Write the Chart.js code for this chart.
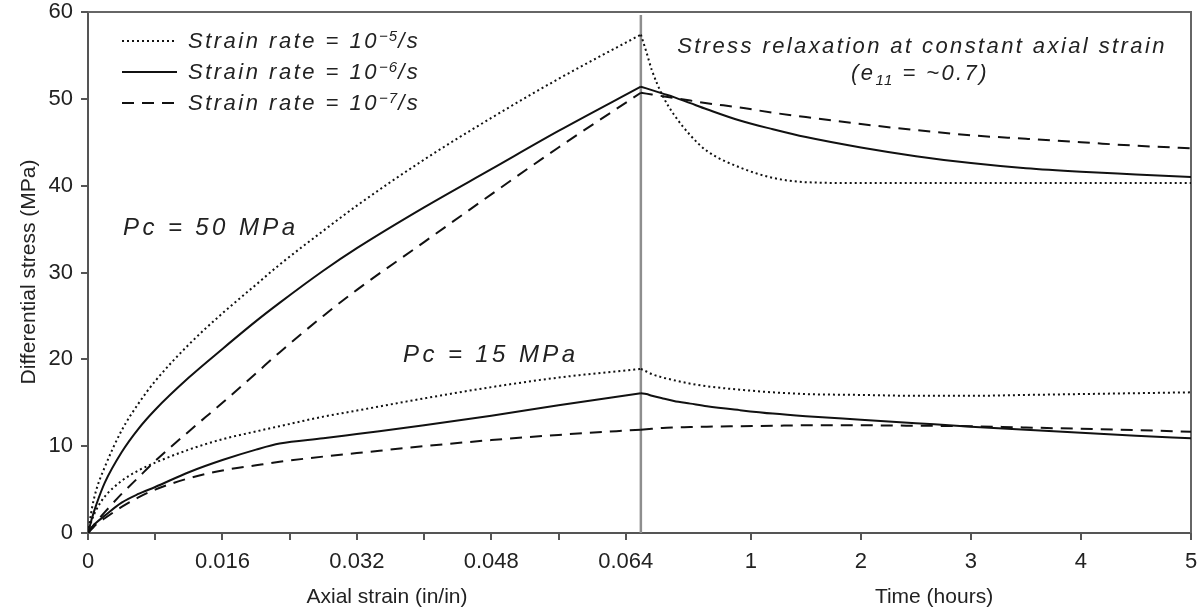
<!DOCTYPE html>
<html>
<head>
<meta charset="utf-8">
<script src="https://cdn.jsdelivr.net/npm/chart.js@4.4.1/dist/chart.umd.min.js"></script>
<style>
  html, body { margin: 0; padding: 0; background: #fff; }
  #wrap { width: 1197px; height: 611px; }
</style>
</head>
<body>
<div id="wrap"><canvas id="chart" width="1197" height="611"></canvas></div>
<script>
// loading part: axial strain (in/in)
const STRAIN = [0, 0.0005, 0.001, 0.002, 0.004, 0.006, 0.008, 0.012, 0.016, 0.020, 0.0228, 0.028, 0.032, 0.040, 0.048, 0.056, 0.0658];
const PC50_R5 = [0, 3.0, 5.0, 7.6, 11.8, 14.9, 17.5, 21.7, 25.3, 28.6, 30.9, 34.8, 37.7, 43.0, 47.8, 52.3, 57.4];
const PC50_R6 = [0, 1.8, 3.3, 5.8, 9.3, 12.0, 14.2, 17.9, 21.2, 24.4, 26.5, 30.2, 32.8, 37.5, 41.9, 46.3, 51.4];
const PC50_R7 = [0, 0.7, 1.3, 2.4, 4.5, 6.4, 8.3, 11.7, 15.0, 18.4, 20.8, 25.0, 28.0, 33.5, 39.0, 44.4, 50.7];
const PC15_R5 = [0, 1.6, 2.7, 4.2, 6.0, 7.2, 8.1, 9.6, 10.8, 11.7, 12.3, 13.4, 14.1, 15.5, 16.8, 17.9, 18.9];
const PC15_R6 = [0, 0.7, 1.2, 2.0, 3.5, 4.5, 5.3, 7.0, 8.4, 9.6, 10.3, 10.9, 11.4, 12.4, 13.5, 14.7, 16.1];
const PC15_R7 = [0, 0.5, 1.0, 1.7, 3.0, 4.1, 5.0, 6.3, 7.2, 7.8, 8.2, 8.8, 9.2, 10.0, 10.7, 11.3, 11.9];

// relaxation part: time (hours) at constant strain
const HOURS = [0, 0.05, 0.1, 0.2, 0.3, 0.45, 0.6, 0.9, 1.2, 1.5, 2, 2.5, 3, 3.5, 4, 4.5, 5];
const PC50_R5_RELAX = [57.4, 55.4, 53.3, 50.3, 48.2, 45.8, 44.0, 42.1, 40.9, 40.4, 40.3, 40.3, 40.3, 40.3, 40.3, 40.3, 40.3];
const PC50_R6_RELAX = [51.4, 51.2, 51.0, 50.6, 50.2, 49.5, 48.8, 47.5, 46.5, 45.6, 44.4, 43.4, 42.6, 42.0, 41.6, 41.3, 41.0];
const PC50_R7_RELAX = [50.7, 50.6, 50.5, 50.3, 50.1, 49.8, 49.5, 49.0, 48.4, 47.9, 47.1, 46.4, 45.8, 45.4, 45.0, 44.6, 44.3];
const PC15_R5_RELAX = [18.9, 18.6, 18.3, 17.9, 17.6, 17.2, 16.9, 16.5, 16.2, 16.0, 15.9, 15.8, 15.8, 15.9, 16.0, 16.1, 16.2];
const PC15_R6_RELAX = [16.1, 16.0, 15.8, 15.5, 15.2, 14.9, 14.6, 14.15, 13.75, 13.45, 13.05, 12.65, 12.25, 11.9, 11.55, 11.2, 10.9];
const PC15_R7_RELAX = [11.9, 11.95, 12.0, 12.1, 12.15, 12.2, 12.25, 12.3, 12.35, 12.4, 12.4, 12.35, 12.3, 12.15, 12.0, 11.85, 11.65];

const STRAIN_TICKS = [0, 0.008, 0.016, 0.024, 0.032, 0.040, 0.048, 0.056, 0.064];
const STRAIN_TICK_LABELS = ['0', '', '0.016', '', '0.032', '', '0.048', '', '0.064'];
const HOUR_TICKS = [1, 2, 3, 4, 5];
const RATE_EXPONENTS = ['\u22125', '\u22126', '\u22127'];

// the time axis continues right of the strain axis
const LINE_STRAIN = 0.0658;
const HOUR_SPAN = 110 / 8400;
const hourToX = h => LINE_STRAIN + h * HOUR_SPAN;

const X_TICKS = STRAIN_TICKS.concat(HOUR_TICKS.map(hourToX));
const X_TICK_LABELS = STRAIN_TICK_LABELS.concat(HOUR_TICKS.map(String));

const FONT = '"Liberation Sans", Arial, sans-serif';
const INK = '#222';
const DOTS = [2, 3];
const DASHES = [12, 8];

function pts(xs, ys) {
  return xs.map((x, i) => ({x: x, y: ys[i]}));
}

function line(data, dash) {
  return {
    data: data,
    borderColor: '#111',
    borderWidth: 2,
    borderDash: dash,
    pointRadius: 0,
    fill: false,
    cubicInterpolationMode: 'monotone',
  };
}

const hourX = HOURS.map(hourToX);

const datasets = [
  line(pts(STRAIN, PC50_R5), DOTS),
  line(pts(STRAIN, PC50_R6), []),
  line(pts(STRAIN, PC50_R7), DASHES),
  line(pts(STRAIN, PC15_R5), DOTS),
  line(pts(STRAIN, PC15_R6), []),
  line(pts(STRAIN, PC15_R7), DASHES),
  line(pts(hourX, PC50_R5_RELAX), DOTS),
  line(pts(hourX, PC50_R6_RELAX), []),
  line(pts(hourX, PC50_R7_RELAX), DASHES),
  line(pts(hourX, PC15_R5_RELAX), DOTS),
  line(pts(hourX, PC15_R6_RELAX), []),
  line(pts(hourX, PC15_R7_RELAX), DASHES),
];

function spaced(ctx, s, x, y, font, ls) {
  ctx.font = font;
  ctx.letterSpacing = ls + 'px';
  ctx.fillText(s, x, y);
  return ctx.measureText(s).width;
}

function width(ctx, s, font, ls) {
  ctx.font = font;
  ctx.letterSpacing = ls + 'px';
  return ctx.measureText(s).width;
}

const decor = {
  id: 'decor',
  beforeDatasetsDraw(chart) {
    const {ctx, chartArea: a, scales: {x}} = chart;
    const lx = x.getPixelForValue(LINE_STRAIN);
    ctx.save();
    ctx.strokeStyle = '#8e8e8e';
    ctx.lineWidth = 2.5;
    ctx.beginPath();
    ctx.moveTo(lx, a.top + 3);
    ctx.lineTo(lx, a.bottom);
    ctx.stroke();
    ctx.strokeStyle = '#666';
    ctx.lineWidth = 2;
    ctx.beginPath();
    ctx.moveTo(a.left, a.top);
    ctx.lineTo(a.right, a.top);
    ctx.lineTo(a.right, a.bottom);
    ctx.stroke();
    ctx.restore();
  },
  afterDraw(chart) {
    const ctx = chart.ctx;
    ctx.save();
    ctx.fillStyle = INK;
    ctx.textAlign = 'left';
    ctx.textBaseline = 'alphabetic';

    // legend
    const it = 'italic 22px ' + FONT;
    const sup = 'italic 15px ' + FONT;
    const dashes = [DOTS, [], DASHES];
    for (let i = 0; i < 3; i++) {
      const ly = 41 + 31 * i;
      ctx.strokeStyle = '#111';
      ctx.lineWidth = 2;
      ctx.setLineDash(dashes[i]);
      ctx.beginPath();
      ctx.moveTo(122, ly);
      ctx.lineTo(177, ly);
      ctx.stroke();
      ctx.setLineDash([]);
      const by = 48 + 31 * i;
      let tx = 188;
      tx += spaced(ctx, 'Strain rate = 10', tx, by, it, 2.5);
      tx += spaced(ctx, RATE_EXPONENTS[i], tx, by - 7, sup, 1);
      spaced(ctx, '/s', tx, by, it, 2.5);
    }

    // confining pressure labels
    const big = 'italic 24px ' + FONT;
    spaced(ctx, 'Pc = 50 MPa', 123, 235, big, 3.4);
    spaced(ctx, 'Pc = 15 MPa', 403, 362, big, 3.4);

    // relaxation note
    const t1 = 'Stress relaxation at constant axial strain';
    const w1 = width(ctx, t1, it, 2.4);
    spaced(ctx, t1, 922 - w1 / 2, 53, it, 2.4);
    const wa = width(ctx, '(e', it, 2.4);
    const wb = width(ctx, '11', sup, 1.5);
    const wc = width(ctx, ' = ~0.7)', it, 2.4);
    let sx = 920 - (wa + wb + wc) / 2;
    sx += spaced(ctx, '(e', sx, 80, it, 2.4);
    sx += spaced(ctx, '11', sx, 85, sup, 1.5);
    spaced(ctx, ' = ~0.7)', sx, 80, it, 2.4);

    // axis titles
    const reg = '21px ' + FONT;
    ctx.textAlign = 'center';
    spaced(ctx, 'Axial strain (in/in)', 387, 603, reg, 0);
    spaced(ctx, 'Time (hours)', 934, 603, reg, 0);
    ctx.translate(35, 272);
    ctx.rotate(-Math.PI / 2);
    spaced(ctx, 'Differential stress (MPa)', 0, 0, reg, 0);
    ctx.restore();
  },
};

new Chart(document.getElementById('chart'), {
  type: 'line',
  data: {datasets: datasets},
  options: {
    responsive: false,
    animation: false,
    devicePixelRatio: 1,
    layout: {padding: {top: 12, right: 6, left: 0, bottom: 0}},
    plugins: {legend: {display: false}, tooltip: {enabled: false}},
    scales: {
      x: {
        type: 'linear',
        min: 0,
        max: hourToX(5),
        afterBuildTicks: scale => {
          scale.ticks = X_TICKS.map(v => ({value: v}));
        },
        afterFit: scale => {
          scale.height = 78;
          scale.paddingLeft = 0;
          scale.paddingRight = 0;
        },
        ticks: {
          callback: (v, i) => X_TICK_LABELS[i],
          autoSkip: false,
          maxRotation: 0,
          color: INK,
          padding: 9,
          font: {family: FONT, size: 22},
        },
        grid: {drawOnChartArea: false, tickLength: 7, color: '#555', lineWidth: 2},
        border: {color: '#555', width: 2},
      },
      y: {
        min: 0,
        max: 60,
        afterFit: scale => {
          scale.width = 88;
          scale.paddingTop = 0;
          scale.paddingBottom = 0;
        },
        ticks: {
          stepSize: 10,
          color: INK,
          padding: 8,
          font: {family: FONT, size: 22},
        },
        grid: {drawOnChartArea: false, tickLength: 7, color: '#555', lineWidth: 2},
        border: {color: '#555', width: 2},
      },
    },
  },
  plugins: [decor],
});
</script>
</body>
</html>
